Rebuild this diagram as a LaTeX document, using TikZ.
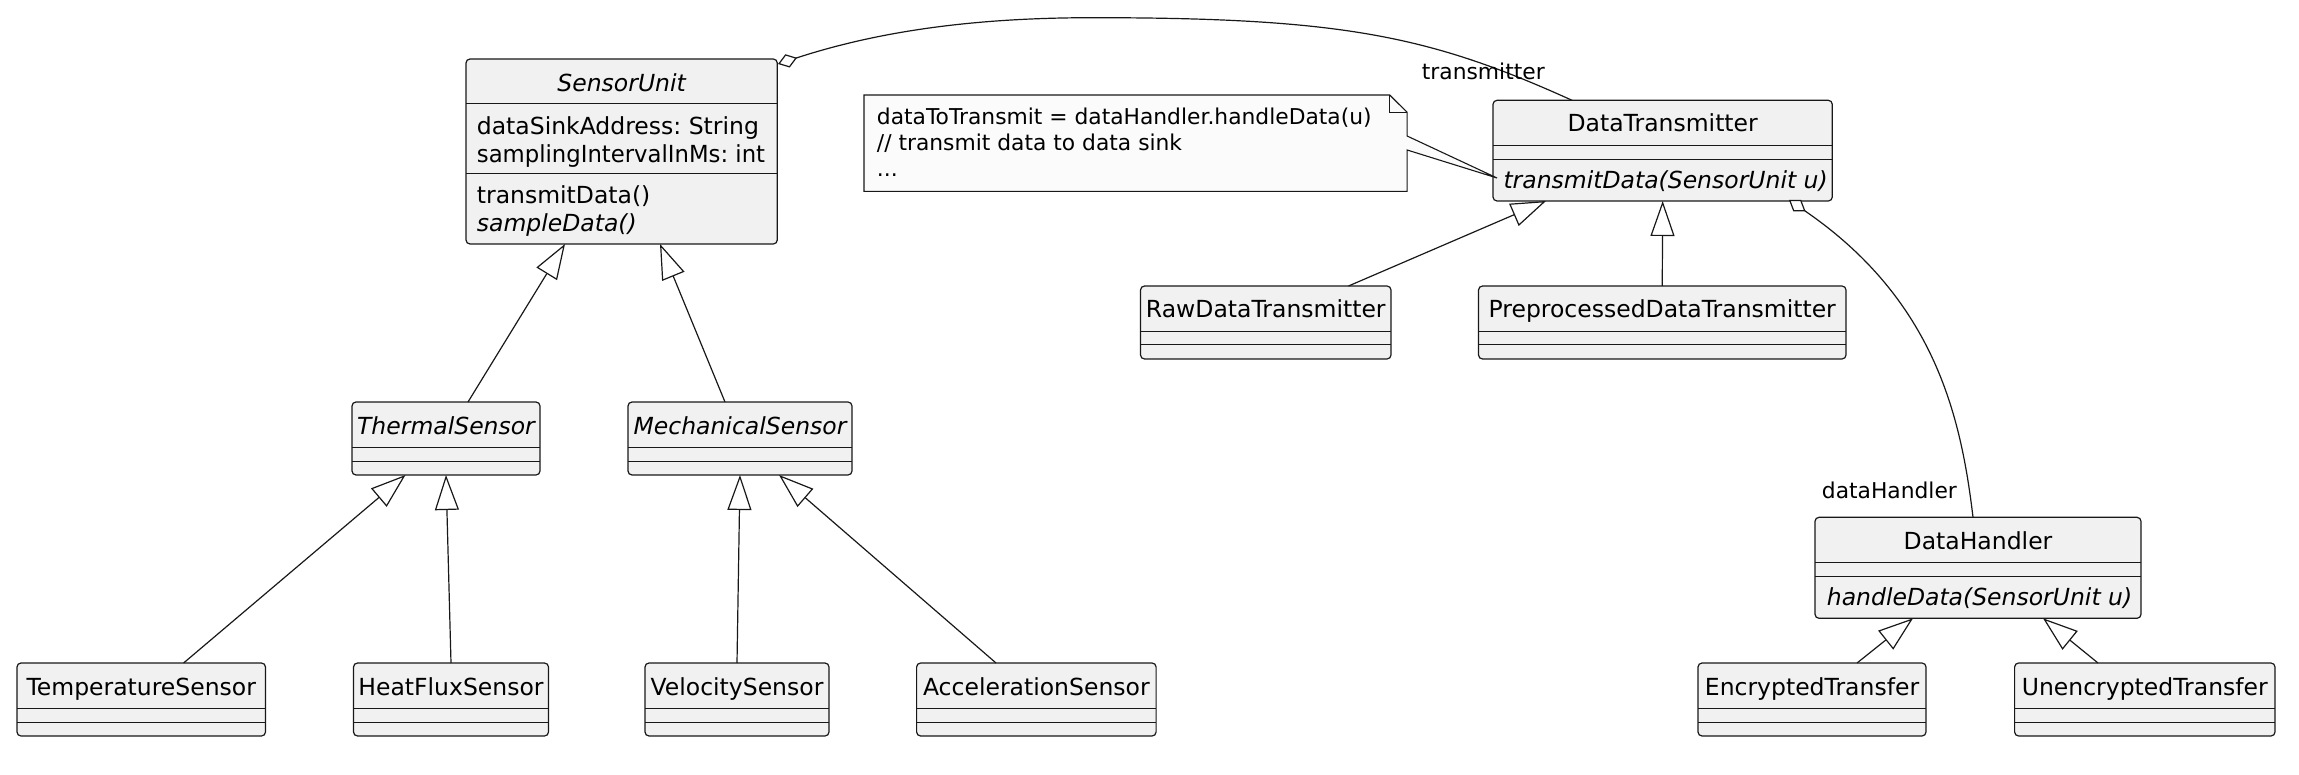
\documentclass[tikz,border=0pt]{standalone}
\usepackage{fontspec}
\usepackage{graphicx}
\setmainfont{DejaVu Sans}
\usetikzlibrary{calc,arrows.meta}
\frenchspacing
\definecolor{clsfill}{HTML}{F1F1F1}
\definecolor{bord}{HTML}{181818}
\definecolor{notefill}{HTML}{FBFBFB}
\newcommand\clsfont{\fontsize{23.5pt}{27pt}\selectfont}
\newcommand\notefont{\fontsize{21.8pt}{25.6pt}\selectfont}
\newcommand\umlempty[6]{%
  \node[cls, minimum width=#4, minimum height=73] (#1) at (#2,#3) {};
  \node[ttl, font=\clsfont#5] (#1-t) at ($(#1.north)+(0,32)$) {#6};
  \draw[sepl] ($(#1.north west)+(0,45.7)$) -- ($(#1.north east)+(0,45.7)$);
  \draw[sepl] ($(#1.north west)+(0,59)$) -- ($(#1.north east)+(0,59)$);
}
\begin{document}
\begin{tikzpicture}[x=1pt,y=-1pt,
  cls/.style={draw=bord, fill=clsfill, line width=1.2pt, rounded corners=4pt,
    anchor=north west, inner sep=0pt, outer sep=0pt},
  ttl/.style={anchor=base, inner sep=0pt, text=black},
  mem/.style={anchor=base west, inner sep=0pt, font=\clsfont, text=black},
  sepl/.style={draw=bord, line width=1pt},
  conn/.style={draw=bord, line width=1.2pt},
  gen/.style={conn, -{Triangle[length=35pt,width=24pt,fill=white]}},
  agg/.style={conn, {Diamond[length=20pt,width=14pt,fill=white]}-},
  notebox/.style={draw=bord, fill=notefill, line width=1.1pt, line join=miter},
  notetxt/.style={anchor=base west, inner sep=0pt, font=\notefont, text=black},
  lbl/.style={anchor=base west, inner sep=0pt, font=\notefont, text=black}]
\useasboundingbox (0,0) rectangle (2299,775);

% SensorUnit
\node[cls, minimum width=311.3, minimum height=185] (su) at (466,59) {};
\node[ttl, font=\clsfont\itshape] (su-t) at ($(su.north)+(0,32.3)$) {SensorUnit};
\draw[sepl] ($(su.north west)+(0,45)$) -- ($(su.north east)+(0,45)$);
\draw[sepl] ($(su.north west)+(0,115)$) -- ($(su.north east)+(0,115)$);
\node[mem] (su-a1) at ($(su.north west)+(10.7,75.3)$) {dataSinkAddress: String};
\node[mem] (su-a2) at ($(su.north west)+(10.7,103.3)$) {\scalebox{0.968}[1]{samplingIntervalInMs: int}};
\node[mem] (su-m1) at ($(su.north west)+(10.7,145)$) {transmitData()};
\node[mem, font=\clsfont\itshape] (su-m2) at ($(su.north west)+(10.7,173)$) {sampleData()};

% DataTransmitter
\node[cls, minimum width=339.3, minimum height=100.7] (dt) at (1493,100.3) {};
\node[ttl, font=\clsfont] (dt-t) at ($(dt.north)+(0,31)$) {DataTransmitter};
\draw[sepl] ($(dt.north west)+(0,45.4)$) -- ($(dt.north east)+(0,45.4)$);
\draw[sepl] ($(dt.north west)+(0,59)$) -- ($(dt.north east)+(0,59)$);
\node[mem, font=\clsfont\itshape] (dt-m) at ($(dt.north west)+(10.3,88)$) {transmitData(SensorUnit u)};

% DataHandler
\node[cls, minimum width=326, minimum height=101] (dh) at (1815,517.3) {};
\node[ttl, font=\clsfont] (dh-t) at ($(dh.north)+(0,32)$) {DataHandler};
\draw[sepl] ($(dh.north west)+(0,45.4)$) -- ($(dh.north east)+(0,45.4)$);
\draw[sepl] ($(dh.north west)+(0,59.4)$) -- ($(dh.north east)+(0,59.4)$);
\node[mem, font=\clsfont\itshape] (dh-m) at ($(dh.north west)+(11.7,88.4)$) {handleData(SensorUnit u)};

% empty classes
\umlempty{ts}{352}{402}{188}{\itshape}{ThermalSensor}
\umlempty{ms}{628}{402}{224}{\itshape}{MechanicalSensor}
\umlempty{tmp}{17}{663}{248.5}{}{TemperatureSensor}
\umlempty{hf}{353.5}{663}{195}{}{HeatFluxSensor}
\umlempty{vs}{645}{663}{184}{}{VelocitySensor}
\umlempty{acc}{916.6}{663}{239.5}{}{AccelerationSensor}
\umlempty{raw}{1140.5}{286}{250.5}{}{RawDataTransmitter}
\umlempty{pre}{1478.5}{286}{367.5}{}{PreprocessedDataTransmitter}
\umlempty{enc}{1698}{663}{228}{}{EncryptedTransfer}
\umlempty{unc}{2014.6}{663}{260.4}{}{UnencryptedTransfer}

% note
\node[anchor=north west, inner sep=0pt, minimum width=542.7, minimum height=96] (note) at (864,95) {};
\draw[notebox] (note.north west) -- ($(note.north east)+(-17.4,0)$) -- ($(note.north east)+(0,17.3)$)
  -- ($(note.north east)+(0,41)$) -- ($(dt.south west)+(4,-23)$) -- ($(note.north east)+(0,55)$)
  -- (note.south east) -- (note.south west) -- cycle;
\draw[draw=bord, line width=1.1pt] ($(note.north east)+(-17.4,0)$) -- ($(note.north east)+(-17.4,17.3)$) -- ($(note.north east)+(0,17.3)$);
\node[notetxt] (n1) at ($(note.north west)+(12.7,30)$) {dataToTransmit = dataHandler.handleData(u)};
\node[notetxt] (n2) at ($(note.north west)+(12.7,56)$) {// transmit data to data sink};
\node[notetxt] (n3) at ($(note.north west)+(12.7,82)$) {...};

% generalizations
\draw[gen] ($(tmp.north west)+(166.6,0)$) -- ($(ts.south west)+(53.5,0)$);
\draw[gen] (hf.north) -- (ts.south);
\draw[gen] (vs.north) -- (ms.south);
\draw[gen] ($(acc.north west)+(79.4,0)$) -- ($(ms.south west)+(151,0)$);
\draw[gen] ($(ts.north west)+(116,0)$) -- ($(su.south west)+(99,0)$);
\draw[gen] ($(ms.north west)+(97,0)$) -- ($(su.south west)+(194,0)$);
\draw[gen] ($(raw.north west)+(208,0)$) -- ($(dt.south west)+(53,0)$);
\draw[gen] (pre.north) -- (dt.south);
\draw[gen] ($(enc.north west)+(159,0)$) -- ($(dh.south west)+(98,0)$);
\draw[gen] ($(unc.north west)+(83.4,0)$) -- ($(dh.south west)+(228,0)$);

% aggregations
\draw[agg] ($(su.north east)+(0.7,5)$) .. controls (891,27) and (993,17.7) .. (1093,17.7)
  .. controls (1343,17.7) and (1430,36) .. ($(dt.north west)+(79,0)$);
\node[lbl] (l-tr) at (1421.7,80) {transmitter};
\draw[agg] ($(dt.south west)+(296,-1)$) .. controls (1935,300) and (1961,417) .. ($(dh.north west)+(158,0)$);
\node[lbl] (l-dh) at (1821.7,498.3) {dataHandler};
\end{tikzpicture}
\end{document}
